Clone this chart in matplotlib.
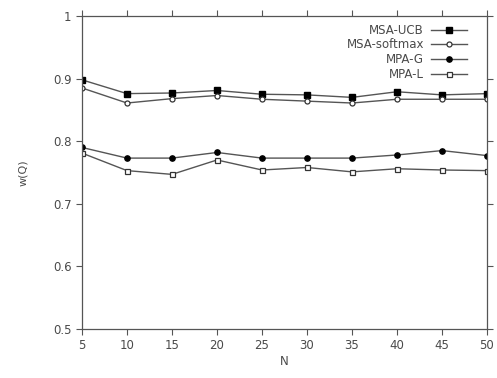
import matplotlib
matplotlib.use('Agg')
import matplotlib.pyplot as plt

N = [5, 10, 15, 20, 25, 30, 35, 40, 45, 50]
msa_ucb = [0.898, 0.876, 0.877, 0.881, 0.875, 0.874, 0.870, 0.879, 0.874, 0.876]
msa_softmax = [0.885, 0.861, 0.868, 0.873, 0.867, 0.864, 0.861, 0.867, 0.867, 0.867]
mpa_g = [0.790, 0.773, 0.773, 0.782, 0.773, 0.773, 0.773, 0.778, 0.785, 0.777]
mpa_l = [0.781, 0.753, 0.747, 0.770, 0.754, 0.758, 0.751, 0.756, 0.754, 0.753]

yticks = [0.5, 0.6, 0.7, 0.8, 0.9, 1]
ytick_labels = ['0.5', '0.6', '0.7', '0.8', '0.9', '1']

plt.rcParams['font.family'] = ['DejaVu Sans']
line_col = '#555555'
text_col = '#4a4a4a'

fig = plt.figure(figsize=(4.97, 3.78), dpi=100)
ax = fig.add_axes([82 / 497, 1 - 329 / 378, 405 / 497, 313 / 378])

ax.plot(N, msa_ucb, color=line_col, lw=1.0, marker='s', ms=3.8,
        mfc='black', mec='black', label='MSA-UCB')
ax.plot(N, msa_softmax, color=line_col, lw=1.0, marker='o', ms=3.6,
        mfc='white', mec='#333333', mew=0.9, label='MSA-softmax')
ax.plot(N, mpa_g, color=line_col, lw=1.0, marker='o', ms=3.8,
        mfc='black', mec='black', label='MPA-G')
ax.plot(N, mpa_l, color=line_col, lw=1.0, marker='s', ms=3.6,
        mfc='white', mec='#333333', mew=0.9, label='MPA-L')

ax.set_xlim(5, 50)
ax.set_ylim(0.5, 1)
ax.set_xticks(N)
ax.set_yticks(yticks)
ax.set_yticklabels(ytick_labels)
ax.tick_params(direction='out', length=4, width=0.8, colors='#555555',
               labelcolor=text_col, labelsize=8.5,
               top=True, right=True)
for s in ax.spines.values():
    s.set_color('#555555')
    s.set_linewidth(0.9)

ax.set_xlabel('N', color=text_col, fontsize=8.5, labelpad=2)
ax.set_ylabel('w(Q)', color=text_col, fontsize=8, labelpad=18)

leg = ax.legend(loc='upper right', bbox_to_anchor=(0.967, 0.998),
                frameon=False, markerfirst=False, fontsize=8.5,
                handlelength=3.0, handletextpad=0.6, labelspacing=0.15,
                borderaxespad=0.2)
for t in leg.get_texts():
    t.set_color(text_col)

fig.savefig('out.png', dpi=100)
